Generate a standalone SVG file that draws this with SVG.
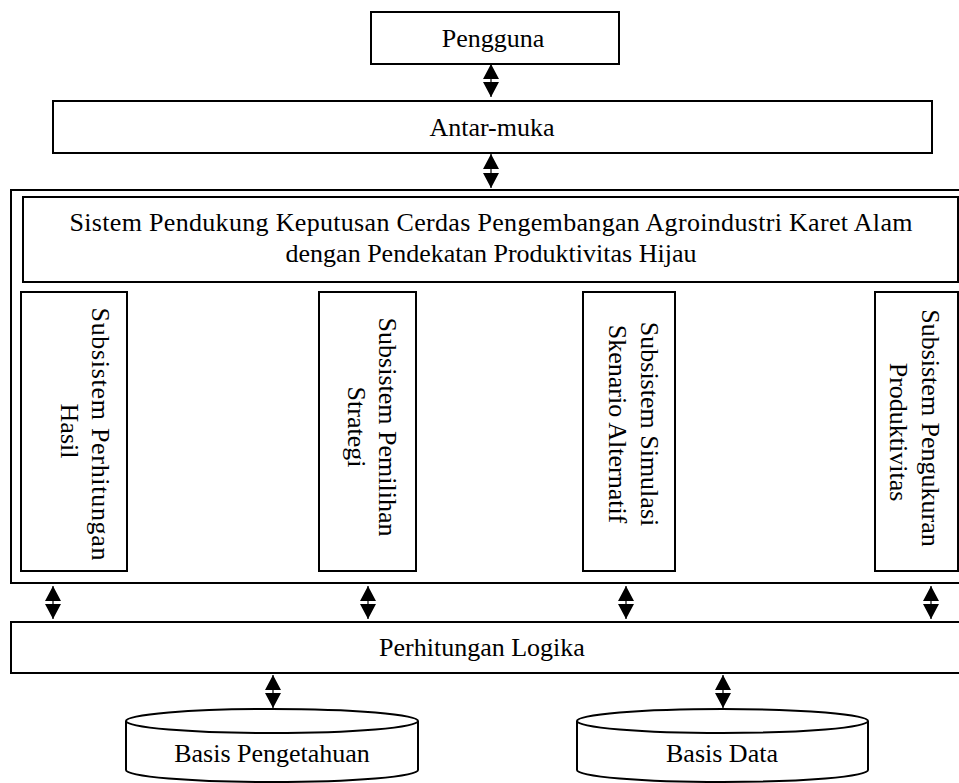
<svg xmlns="http://www.w3.org/2000/svg" width="959" height="783" viewBox="0 0 959 783">
<style>
.box{fill:#fff;stroke:#000;stroke-width:2}
.t{font-family:"Liberation Serif","Times New Roman",serif;font-size:26px;fill:#000;text-anchor:middle}
.c{stroke:#000;stroke-width:1.2;fill:none;marker-start:url(#ah);marker-end:url(#ah)}
</style>
<defs>
<marker id="ah" markerUnits="userSpaceOnUse" markerWidth="16" markerHeight="16" refX="15" refY="8" orient="auto-start-reverse" viewBox="0 0 16 16">
<path d="M0,0 L15,8 L0,16 z" fill="#000"/>
</marker>
</defs>
<rect width="959" height="783" fill="#fff"/>
<g id="pengguna">
<rect class="box" x="371" y="12" width="248" height="52"/>
<text class="t" x="493" y="47">Pengguna</text>
</g>
<g id="antarmuka">
<rect class="box" x="53" y="101" width="879" height="52"/>
<text class="t" x="492" y="136">Antar-muka</text>
</g>
<g id="spk">
<rect class="box" x="11" y="190" width="960" height="393"/>
<rect class="box" x="23" y="197" width="935" height="85"/>
<text class="t" x="491" y="231" textLength="843" lengthAdjust="spacing">Sistem Pendukung Keputusan Cerdas Pengembangan Agroindustri Karet Alam</text>
<text class="t" x="491" y="262">dengan Pendekatan Produktivitas Hijau</text>
</g>
<g id="sub1">
<rect class="box" x="21" y="292" width="106" height="279"/>
<text class="t" transform="translate(92,434) rotate(90)" textLength="253" lengthAdjust="spacing">Subsistem Perhitungan</text>
<text class="t" transform="translate(61,431) rotate(90)">Hasil</text>
</g>
<g id="sub2">
<rect class="box" x="319" y="292" width="97" height="279"/>
<text class="t" transform="translate(379,427) rotate(90)">Subsistem Pemilihan</text>
<text class="t" transform="translate(348,427) rotate(90)">Strategi</text>
</g>
<g id="sub3">
<rect class="box" x="583" y="292" width="92" height="279"/>
<text class="t" transform="translate(641,424) rotate(90)">Subsistem Simulasi</text>
<text class="t" transform="translate(609,424) rotate(90)">Skenario Alternatif</text>
</g>
<g id="sub4">
<rect class="box" x="875" y="292" width="83" height="279"/>
<text class="t" transform="translate(922,428) rotate(90)">Subsistem Pengukuran</text>
<text class="t" transform="translate(890,432) rotate(90)">Produktivitas</text>
</g>
<g id="logika">
<rect class="box" x="11" y="622" width="960" height="51"/>
<text class="t" x="482" y="656">Perhitungan Logika</text>
</g>
<g id="basis-pengetahuan">
<path class="box" d="M126,721 L126,770 A146,12 0 0 0 418,770 L418,721"/>
<ellipse class="box" cx="272" cy="721" rx="146" ry="12"/>
<text class="t" x="272" y="762">Basis Pengetahuan</text>
</g>
<g id="basis-data">
<path class="box" d="M577,721 L577,770 A145.5,12 0 0 0 868,770 L868,721"/>
<ellipse class="box" cx="722.5" cy="721" rx="145.5" ry="12"/>
<text class="t" x="722" y="762">Basis Data</text>
</g>
<g id="connectors">
<line class="c" x1="491" y1="64" x2="491" y2="97"/>
<line class="c" x1="491" y1="154" x2="491" y2="188"/>
<line class="c" x1="53" y1="586" x2="53" y2="619"/>
<line class="c" x1="368" y1="586" x2="368" y2="619"/>
<line class="c" x1="626" y1="586" x2="626" y2="619"/>
<line class="c" x1="931" y1="586" x2="931" y2="619"/>
<line class="c" x1="273" y1="675" x2="273" y2="708"/>
<line class="c" x1="723" y1="675" x2="723" y2="708"/>
</g>
</svg>
